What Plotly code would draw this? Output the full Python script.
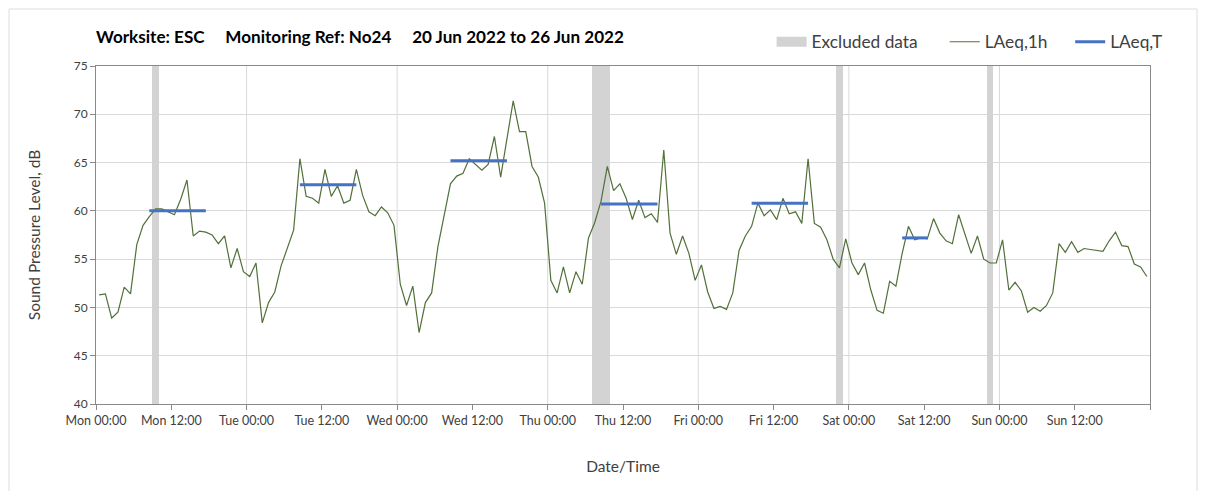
import pandas as pd
import plotly.graph_objects as go

# hourly LAeq values, Mon 20 Jun 00:00 to Sun 26 Jun 23:00 (plotted mid-hour)
laeq_1h = [
    51.3, 51.4, 48.9, 49.5, 52.1, 51.4, 56.5, 58.5, 59.4, 60.2, 60.2, 59.9,
    59.6, 61.2, 63.2, 57.4, 57.9, 57.8, 57.5, 56.6, 57.4, 54.1, 56.1, 53.7,
    53.2, 54.6, 48.4, 50.5, 51.6, 54.3, 56.1, 58.0, 65.4, 61.5, 61.3, 60.8,
    64.3, 61.5, 62.6, 60.8, 61.1, 64.3, 61.6, 59.9, 59.5, 60.4, 59.8, 58.5,
    52.4, 50.2, 52.2, 47.4, 50.5, 51.5, 56.3, 59.4, 62.8, 63.6, 63.9, 65.4,
    64.8, 64.2, 64.8, 67.7, 63.5, 67.4, 71.4, 68.2, 68.2, 64.6, 63.5, 60.8,
    52.8, 51.5, 54.2, 51.5, 53.7, 52.4, 57.2, 58.8, 61.0, 64.6, 62.1, 62.8,
    61.3, 59.1, 61.1, 59.3, 59.7, 58.8, 66.3, 57.7, 55.5, 57.4, 55.6, 52.8,
    54.4, 51.6, 49.9, 50.1, 49.8, 51.5, 55.9, 57.4, 58.4, 60.8, 59.5, 60.1,
    59.1, 61.3, 59.7, 59.9, 58.7, 65.4, 58.7, 58.3, 57.0, 55.0, 54.1, 57.1,
    54.6, 53.4, 54.6, 51.8, 49.7, 49.4, 52.7, 52.2, 55.6, 58.4, 57.0, 57.2,
    57.1, 59.2, 57.7, 56.9, 56.6, 59.6, 57.6, 55.6, 57.4, 55.0, 54.6, 54.6,
    57.0, 51.8, 52.6, 51.7, 49.5, 50.0, 49.6, 50.2, 51.5, 56.6, 55.7, 56.8,
    55.7, 56.1, 56.0, 55.9, 55.8, 56.9, 57.8, 56.4, 56.3, 54.5, 54.2, 53.2,
]
hour_times = pd.date_range("2022-06-20 00:30", periods=len(laeq_1h), freq="h")

# LAeq,T working periods (first and last hour of each period)
period_start = ["2022-06-20 08:30", "2022-06-21 08:30", "2022-06-22 08:30",
                "2022-06-23 08:30", "2022-06-24 08:30", "2022-06-25 08:30"]
period_end = ["2022-06-20 17:30", "2022-06-21 17:30", "2022-06-22 17:30",
              "2022-06-23 17:30", "2022-06-24 17:30", "2022-06-25 12:30"]
laeq_t = [60.0, 62.7, 65.2, 60.7, 60.8, 57.2]

# excluded data periods
excl_start = ["2022-06-20 09:00", "2022-06-23 07:00", "2022-06-24 22:00", "2022-06-25 22:00"]
excl_hours = [1, 3, 1, 1]

y_min, y_max = 40, 75
week_start = pd.Timestamp("2022-06-20 00:00")
week_end = pd.Timestamp("2022-06-27 00:00")

tick_vals = pd.date_range(week_start, week_end, freq="12h")
tick_text = [t.strftime("%a %H:%M") for t in tick_vals[:-1]] + [""]

EXCL_GREY = "#D3D3D3"
nb = "\u00a0"
fig = go.Figure()

excl_centres = [pd.Timestamp(s) + pd.Timedelta(hours=h) / 2 for s, h in zip(excl_start, excl_hours)]
fig.add_trace(go.Bar(
    x=excl_centres,
    y=[y_max - y_min] * len(excl_start),
    base=y_min,
    width=[h * 3600000 for h in excl_hours],
    marker=dict(color=EXCL_GREY, line=dict(width=0)),
    name="Excluded data",
    showlegend=False,
    hoverinfo="skip",
))
# legend-only entry so the key is a wide grey block
fig.add_trace(go.Scatter(
    x=[None], y=[None], mode="lines",
    line=dict(color=EXCL_GREY, width=10),
    name="Excluded data" + nb * 5,
))

fig.add_trace(go.Scatter(
    x=hour_times, y=laeq_1h,
    mode="lines",
    name="LAeq,1h" + nb * 4,
    line=dict(color="#51703A", width=1.2),
))

t_x, t_y = [], []
for s, e, v in zip(period_start, period_end, laeq_t):
    t_x += [s, e, None]
    t_y += [v, v, None]
fig.add_trace(go.Scatter(
    x=t_x, y=t_y,
    mode="lines",
    name="LAeq,T",
    line=dict(color="#4472C4", width=3),
))

# vertical gridlines at each midnight
for d in pd.date_range(week_start, week_end, freq="24h")[1:-1]:
    fig.add_shape(type="line", xref="x", yref="paper", x0=d, x1=d, y0=0, y1=1,
                  line=dict(color="#D9D9D9", width=1), layer="below")

# faint outer frame
fig.add_shape(type="rect", xref="paper", yref="paper",
              x0=-87 / 1054, x1=1101 / 1054, y0=-0.4, y1=1 + 57 / 338,
              line=dict(color="#DDDDDD", width=1), layer="below")

fig.update_layout(
    width=1192, height=483,
    paper_bgcolor="white", plot_bgcolor="white",
    font=dict(family="Lato, 'Open Sans', sans-serif", color="#404040", size=12),
    margin=dict(l=88, r=50, t=58, b=87),
    title=dict(
        text=f"<b>Worksite: ESC{nb*5}Monitoring Ref: No24{nb*5}20 Jun 2022 to 26 Jun 2022</b>",
        x=0, xref="paper", xanchor="left",
        y=(483 - 29) / 483, yref="container", yanchor="middle",
        font=dict(size=17.1, color="#000000"),
    ),
    showlegend=True,
    legend=dict(
        orientation="h", x=0.641, xanchor="left", y=1.071, yanchor="middle",
        font=dict(size=17.3, color="#404040"),
        bgcolor="rgba(0,0,0,0)",
    ),
    bargap=0,
    xaxis=dict(
        type="date",
        range=[week_start, week_end],
        tickvals=tick_vals, ticktext=tick_text,
        ticks="outside", ticklen=5, tickcolor="#898989",
        showgrid=False, zeroline=False,
        showline=True, linecolor="#898989", linewidth=1, mirror=True,
        tickfont=dict(size=12.5, color="#404040"),
        title=dict(text="Date/Time", font=dict(size=15.5, color="#404040"), standoff=34),
    ),
    yaxis=dict(
        range=[y_min, y_max], dtick=5,
        ticks="outside", ticklen=5, tickcolor="#898989",
        showgrid=True, gridcolor="#D9D9D9", gridwidth=1, zeroline=False,
        showline=True, linecolor="#898989", linewidth=1, mirror=True,
        tickfont=dict(size=12, color="#404040"),
        title=dict(text="Sound Pressure Level, dB", font=dict(size=15.5, color="#404040"), standoff=29),
    ),
)

fig.write_html("out.html")
